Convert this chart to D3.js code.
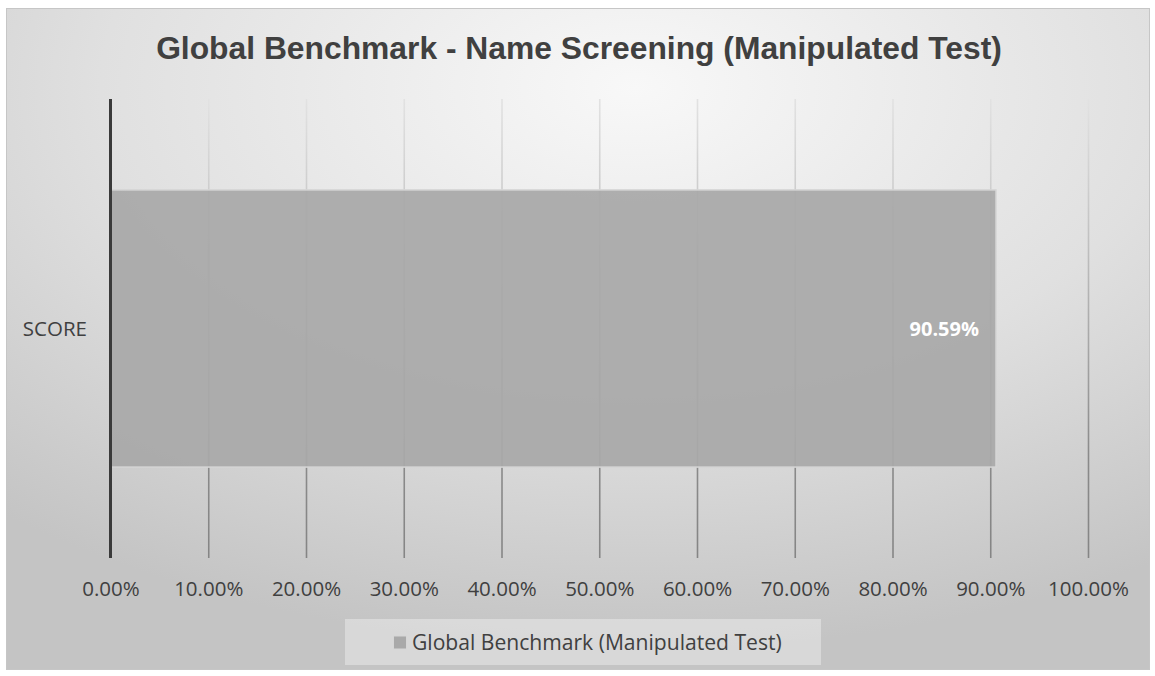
<!DOCTYPE html>
<html>
<head>
<meta charset="utf-8">
<script src="https://cdn.jsdelivr.net/npm/d3@7"></script>
<style>
  body { margin: 0; background: #ffffff; }
  svg { display: block; }
</style>
</head>
<body>
<div id="chart"></div>
<script>
//========================
//   Chart data
//========================
var title = "Global Benchmark - Name Screening (Manipulated Test)";
var seriesName = "Global Benchmark (Manipulated Test)";
var categories = ["SCORE"];
var scores = [0.9059];
var tickValues = [0, 0.1, 0.2, 0.3, 0.4, 0.5, 0.6, 0.7, 0.8, 0.9, 1.0];

//========================
//   Canvas setup
//========================
var width = 1155, height = 676;
var plot = { left: 110.5, right: 1088, top: 99, bottom: 558 };
var fmt = d3.format(".2%");

var svg = d3.select("#chart").append("svg")
  .attr("width", width)
  .attr("height", height);

var defs = svg.append("defs");

//Radial background, light near the title, darker towards the corners
var bg = defs.append("radialGradient")
  .attr("id", "bgGrad")
  .attr("cx", 0.55).attr("cy", 0.12)
  .attr("fx", 0.55).attr("fy", 0.12)
  .attr("r", 0.85);
bg.append("stop").attr("offset", "0%").attr("stop-color", "#f8f8f8");
bg.append("stop").attr("offset", "55%").attr("stop-color", "#e0e0e0");
bg.append("stop").attr("offset", "100%").attr("stop-color", "#c4c4c4");

//Gridlines fade from light at the top to dark at the bottom
//(tick lines live in the axis group, so y runs from -plotHeight up to 0)
var gg = defs.append("linearGradient")
  .attr("id", "gridGrad")
  .attr("gradientUnits", "userSpaceOnUse")
  .attr("x1", 0).attr("x2", 0)
  .attr("y1", -(plot.bottom - plot.top)).attr("y2", 0);
gg.append("stop").attr("offset", "0%").attr("stop-color", "#e2e2e2");
gg.append("stop").attr("offset", "20%").attr("stop-color", "#cdcdcd");
gg.append("stop").attr("offset", "78%").attr("stop-color", "#8a8a8a");
gg.append("stop").attr("offset", "100%").attr("stop-color", "#858585");

svg.append("rect")
  .attr("x", 6.5).attr("y", 8.5)
  .attr("width", 1143).attr("height", 661)
  .attr("fill", "url(#bgGrad)")
  .attr("stroke", "#c6c6c6")
  .attr("stroke-width", 1);

//========================
//   Scales
//========================
var x = d3.scaleLinear()
  .domain([0, 1])
  .range([plot.left, plot.right]);

var y = d3.scaleBand()
  .domain(categories)
  .range([plot.top, plot.bottom])
  .padding(0.247);

//Title
svg.append("text")
  .attr("x", 579)
  .attr("y", 58.5)
  .attr("text-anchor", "middle")
  .attr("font-family", "Liberation Sans, Arial, sans-serif")
  .attr("font-weight", "bold")
  .attr("font-size", 31.8)
  .attr("fill", "#404040")
  .text(title);

//Vertical gridlines + tick labels
var xAxis = svg.append("g")
  .attr("transform", "translate(0," + plot.bottom + ")")
  .call(d3.axisBottom(x)
    .tickValues(tickValues)
    .tickFormat(fmt)
    .tickSize(-(plot.bottom - plot.top))
    .tickPadding(19));

xAxis.select(".domain").remove();
xAxis.selectAll(".tick line")
  .attr("stroke", "url(#gridGrad)")
  .attr("stroke-width", 1.6);
xAxis.selectAll(".tick text")
  .attr("dy", 0)
  .attr("y", 38)
  .attr("font-family", "Open Sans, sans-serif")
  .attr("font-size", 20.5)
  .attr("fill", "#404040");

//Bars
svg.selectAll(".bar")
  .data(scores)
  .enter().append("rect")
  .attr("class", "bar")
  .attr("x", x(0))
  .attr("y", function(d, i) { return y(categories[i]); })
  .attr("width", function(d) { return x(d) - x(0); })
  .attr("height", y.bandwidth())
  .attr("fill", "#a9a9a9")
  .attr("fill-opacity", 0.94)
  .attr("stroke", "#d6d6d6")
  .attr("stroke-width", 1.5);

//Value labels
svg.selectAll(".value")
  .data(scores)
  .enter().append("text")
  .attr("class", "value")
  .attr("x", function(d) { return x(d) - 17; })
  .attr("y", function(d, i) { return y(categories[i]) + y.bandwidth() / 2 + 7; })
  .attr("text-anchor", "end")
  .attr("font-family", "Open Sans, sans-serif")
  .attr("font-weight", "bold")
  .attr("font-size", 20)
  .attr("fill", "#ffffff")
  .text(function(d) { return fmt(d); });

//Category axis line + labels
svg.append("line")
  .attr("x1", plot.left).attr("x2", plot.left)
  .attr("y1", plot.top).attr("y2", plot.bottom)
  .attr("stroke", "#3a3a3a")
  .attr("stroke-width", 3);

svg.selectAll(".cat")
  .data(categories)
  .enter().append("text")
  .attr("class", "cat")
  .attr("x", 87)
  .attr("y", function(d) { return y(d) + y.bandwidth() / 2 + 7; })
  .attr("text-anchor", "end")
  .attr("font-family", "Open Sans, sans-serif")
  .attr("font-size", 20.5)
  .attr("fill", "#404040")
  .text(function(d) { return d; });

//Legend
var legend = svg.append("g");
legend.append("rect")
  .attr("x", 345).attr("y", 619)
  .attr("width", 476).attr("height", 46)
  .attr("fill", "#ffffff")
  .attr("fill-opacity", 0.35);
legend.append("rect")
  .attr("x", 393.5).attr("y", 636)
  .attr("width", 13).attr("height", 13)
  .attr("fill", "#a9a9a9")
  .attr("stroke", "#d6d6d6")
  .attr("stroke-width", 1);
legend.append("text")
  .attr("x", 412)
  .attr("y", 649.5)
  .attr("font-family", "Open Sans, sans-serif")
  .attr("font-size", 21.1)
  .attr("fill", "#404040")
  .text(seriesName);
</script>
</body>
</html>
